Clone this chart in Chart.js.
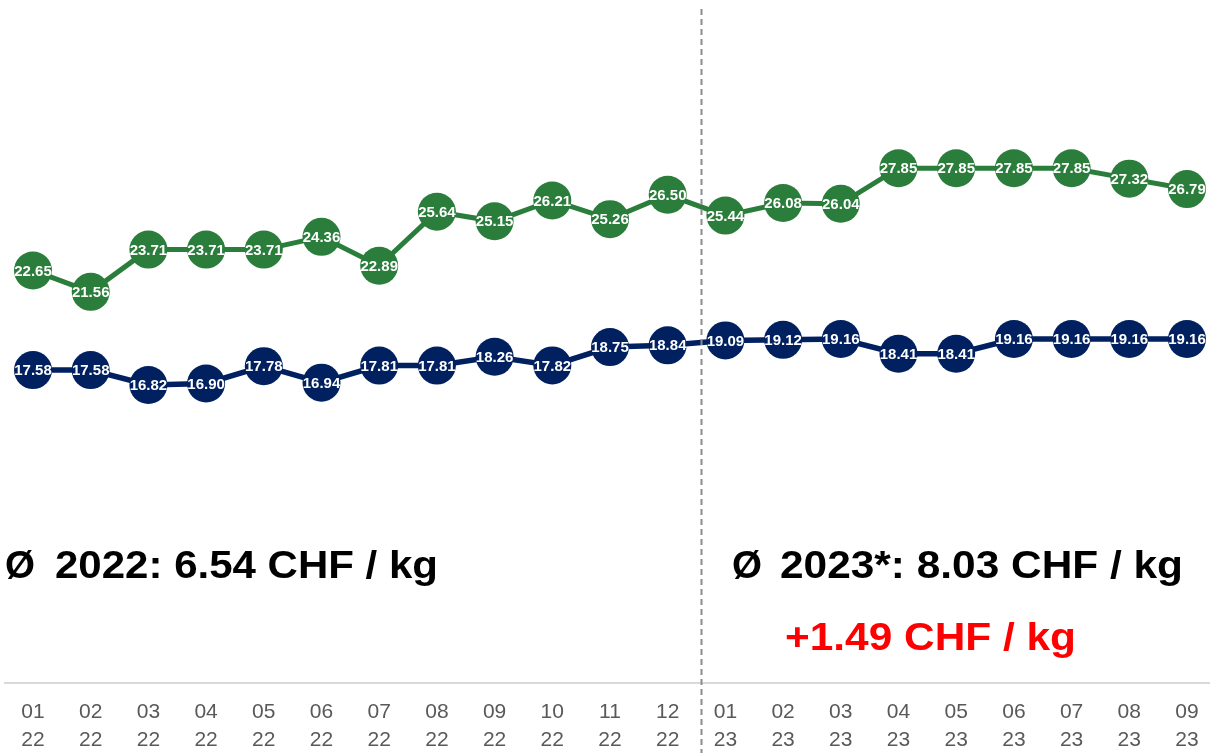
<!DOCTYPE html>
<html>
<head>
<meta charset="utf-8">
<script src="https://cdn.jsdelivr.net/npm/chart.js@4.4.1/dist/chart.umd.min.js"></script>
<style>
  html, body { margin: 0; padding: 0; background: #fff; overflow: hidden; }
  #wrap { position: relative; width: 1210px; height: 753px; }
</style>
</head>
<body>
<div id="wrap"><canvas id="priceChart" width="1210" height="753"></canvas></div>
<script>
// Monate (Monat / Jahr)
const months = ['01', '02', '03', '04', '05', '06', '07', '08', '09', '10', '11', '12',
                '01', '02', '03', '04', '05', '06', '07', '08', '09'];
const years = ['22', '22', '22', '22', '22', '22', '22', '22', '22', '22', '22', '22',
               '23', '23', '23', '23', '23', '23', '23', '23', '23'];

// Preise je Serie
const greenValues = [22.65, 21.56, 23.71, 23.71, 23.71, 24.36, 22.89, 25.64, 25.15, 26.21, 25.26, 26.50,
                     25.44, 26.08, 26.04, 27.85, 27.85, 27.85, 27.85, 27.32, 26.79];
const navyValues = [17.58, 17.58, 16.82, 16.90, 17.78, 16.94, 17.81, 17.81, 18.26, 17.82, 18.75, 18.84,
                    19.09, 19.12, 19.16, 18.41, 18.41, 19.16, 19.16, 19.16, 19.16];

const labels = months.map((m, i) => [m, years[i]]);

const FONT = "'Liberation Sans', Arial, sans-serif";
const GREEN = '#2A7D3A';
const NAVY = '#002060';

// Wertelabels in den Kreisen
const valueLabels = {
    id: 'valueLabels',
    afterDatasetsDraw(chart) {
        const ctx = chart.ctx;
        ctx.save();
        ctx.font = 'bold 15px ' + FONT;
        ctx.fillStyle = '#FFFFFF';
        ctx.textAlign = 'center';
        ctx.textBaseline = 'middle';
        chart.data.datasets.forEach((ds, di) => {
            chart.getDatasetMeta(di).data.forEach((pt, i) => {
                ctx.fillText(ds.data[i].toFixed(2), pt.x, pt.y + 1);
            });
        });
        ctx.restore();
    }
};

// Grundlinie, Trennlinie zwischen den Jahren und Jahresmittel
const extras = {
    id: 'extras',
    beforeDatasetsDraw(chart) {
        const ctx = chart.ctx;
        const area = chart.chartArea;
        ctx.save();
        ctx.strokeStyle = '#D9D9D9';
        ctx.lineWidth = 2;
        ctx.beginPath();
        ctx.moveTo(4, area.bottom);
        ctx.lineTo(chart.width, area.bottom);
        ctx.stroke();
        ctx.restore();
    },
    afterDatasetsDraw(chart) {
        const ctx = chart.ctx;
        const x = Math.round(chart.scales.x.getPixelForValue(11.58)) + 0.5;
        ctx.save();
        ctx.strokeStyle = '#8C8C8C';
        ctx.lineWidth = 2;
        ctx.setLineDash([6, 4]);
        ctx.beginPath();
        ctx.moveTo(x, 9);
        ctx.lineTo(x, chart.height);
        ctx.stroke();
        ctx.restore();

        // Text leicht breitgezogen wie im Original
        const stretched = (text, left, baseline, width, color) => {
            ctx.save();
            ctx.font = 'bold 38px ' + FONT;
            ctx.fillStyle = color;
            ctx.textBaseline = 'alphabetic';
            const w = ctx.measureText(text).width;
            ctx.translate(left, baseline);
            ctx.scale(width / w, 1);
            ctx.fillText(text, 0, 0);
            ctx.restore();
        };
        stretched('Ø', 5, 578, 30, '#000000');
        stretched('2022: 6.54 CHF / kg', 55, 578, 383, '#000000');
        stretched('Ø', 732, 578, 30, '#000000');
        stretched('2023*: 8.03 CHF / kg', 780, 578, 403, '#000000');
        stretched('+1.49 CHF / kg', 785, 650, 291, '#FF0000');
    }
};

const ctxPrice = document.getElementById('priceChart').getContext('2d');
const priceChart = new Chart(ctxPrice, {
    type: 'line',
    data: {
        labels: labels,
        datasets: [
            { data: greenValues, borderColor: GREEN, backgroundColor: GREEN, borderWidth: 5,
              pointRadius: 19, pointHoverRadius: 19, pointBorderWidth: 0, pointBackgroundColor: GREEN, clip: false },
            { data: navyValues, borderColor: NAVY, backgroundColor: NAVY, borderWidth: 5.5,
              pointRadius: 19, pointHoverRadius: 19, pointBorderWidth: 0, pointBackgroundColor: NAVY, clip: false }
        ]
    },
    options: {
        animation: false,
        responsive: false,
        events: [],
        layout: { autoPadding: false, padding: { left: 33, right: 23, top: 0, bottom: 0 } },
        plugins: { legend: { display: false }, tooltip: { enabled: false } },
        scales: {
            x: {
                type: 'category',
                offset: false,
                grid: { display: false, drawTicks: false },
                border: { display: false },
                // feste Höhe, keine Zusatzränder durch die Beschriftung
                afterFit: (scale) => {
                    scale.height = 70;
                    scale.paddingLeft = 0;
                    scale.paddingRight = 0;
                },
                ticks: {
                    color: '#595959',
                    font: { family: FONT, size: 21, lineHeight: 1.35 },
                    padding: 15,
                    autoSkip: false,
                    maxRotation: 0
                }
            },
            y: {
                display: false,
                min: 1.66,
                max: 36.41
            }
        }
    },
    plugins: [extras, valueLabels]
});
</script>
</body>
</html>
